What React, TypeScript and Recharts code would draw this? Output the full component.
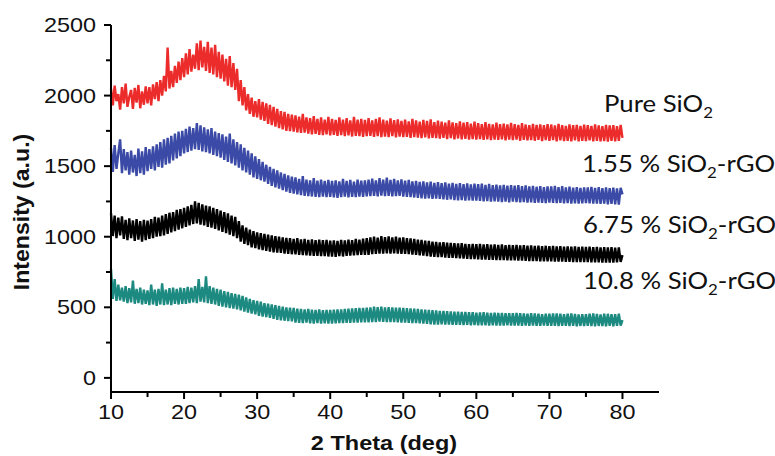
import React from 'react';
import { LineChart, Line, XAxis, YAxis } from 'recharts';

// scan: 10 -> 80 deg, 0.25 deg step (20 points per row = 5 deg)
const SCAN_START = 10;
const SCAN_STEP = 0.25;

const pureSiO2 = [
  2050, 1930, 2070, 1960, 2010, 1900, 2060, 1945, 2085, 1920, 1990, 2040, 1905, 2055, 1950, 2075, 1910, 2030, 1935, 2065,
  1945, 2060, 1930, 2080, 1975, 2095, 1960, 2110, 2000, 2140, 2030, 2340, 2050, 2175, 2060, 2210, 2090, 2240, 2110, 2265,
  2130, 2300, 2150, 2330, 2170, 2290, 2190, 2370, 2180, 2390, 2200, 2345, 2175, 2380, 2160, 2340, 2150, 2360, 2130, 2310,
  2120, 2290, 2100, 2260, 2070, 2280, 2060, 2230, 2040, 2190, 1960, 2110, 1930, 2060, 1895, 2010, 1870, 1985, 1850, 1960,
  1845, 1975, 1830, 1955, 1820, 1945, 1800, 1935, 1790, 1920, 1780, 1905, 1770, 1890, 1760, 1885, 1750, 1870, 1748, 1865,
  1745, 1860, 1740, 1850, 1735, 1870, 1738, 1845, 1730, 1840, 1725, 1855, 1728, 1835, 1722, 1845, 1720, 1830, 1725, 1850,
  1718, 1835, 1722, 1828, 1715, 1845, 1720, 1830, 1712, 1840, 1718, 1825, 1710, 1850, 1715, 1830, 1712, 1835, 1708, 1828,
  1712, 1840, 1715, 1825, 1708, 1835, 1712, 1845, 1705, 1830, 1710, 1822, 1706, 1838, 1712, 1826, 1704, 1832, 1710, 1820,
  1705, 1830, 1708, 1818, 1700, 1835, 1706, 1825, 1702, 1815, 1698, 1828, 1704, 1820, 1696, 1832, 1700, 1812, 1698, 1822,
  1695, 1815, 1700, 1808, 1692, 1825, 1698, 1810, 1690, 1805, 1696, 1818, 1690, 1808, 1694, 1812, 1688, 1802, 1692, 1815,
  1688, 1805, 1692, 1798, 1686, 1812, 1690, 1800, 1684, 1795, 1688, 1808, 1686, 1798, 1690, 1802, 1682, 1796, 1688, 1806,
  1684, 1798, 1688, 1792, 1680, 1805, 1686, 1795, 1682, 1790, 1684, 1800, 1680, 1792, 1686, 1796, 1678, 1790, 1684, 1798,
  1680, 1795, 1684, 1788, 1676, 1800, 1682, 1790, 1678, 1786, 1680, 1796, 1676, 1790, 1682, 1792, 1676, 1786, 1680, 1794,
  1678, 1790, 1682, 1786, 1675, 1796, 1680, 1788, 1676, 1784, 1678, 1792, 1674, 1788, 1680, 1790, 1676, 1784, 1680, 1792,
  1700,
];

const rgo155 = [
  1630, 1460, 1650, 1480, 1590, 1690, 1450, 1620, 1470, 1600, 1440, 1610, 1455, 1580, 1430, 1625, 1450, 1605, 1440, 1635,
  1465, 1620, 1480, 1640, 1470, 1655, 1495, 1670, 1490, 1690, 1510, 1700, 1520, 1715, 1540, 1730, 1555, 1745, 1570, 1750,
  1590, 1765, 1600, 1780, 1610, 1770, 1620, 1805, 1615, 1790, 1605, 1775, 1600, 1760, 1590, 1770, 1580, 1745, 1570, 1735,
  1560, 1725, 1545, 1710, 1530, 1730, 1520, 1690, 1505, 1670, 1490, 1655, 1470, 1630, 1455, 1610, 1440, 1590, 1420, 1570,
  1410, 1550, 1400, 1530, 1390, 1510, 1375, 1495, 1360, 1480, 1350, 1470, 1340, 1455, 1330, 1445, 1320, 1435, 1310, 1425,
  1305, 1420, 1300, 1410, 1295, 1430, 1290, 1405, 1288, 1400, 1285, 1415, 1282, 1398, 1280, 1405, 1284, 1395, 1280, 1402,
  1282, 1395, 1278, 1400, 1275, 1392, 1280, 1410, 1284, 1396, 1278, 1402, 1282, 1390, 1280, 1405, 1285, 1398, 1282, 1400,
  1286, 1405, 1288, 1412, 1290, 1400, 1286, 1415, 1292, 1405, 1288, 1418, 1290, 1402, 1286, 1410, 1288, 1400, 1290, 1406,
  1285, 1398, 1282, 1402, 1280, 1392, 1278, 1396, 1275, 1388, 1272, 1392, 1270, 1385, 1272, 1390, 1268, 1382, 1270, 1386,
  1268, 1380, 1265, 1385, 1262, 1376, 1264, 1382, 1260, 1374, 1258, 1380, 1260, 1372, 1256, 1378, 1258, 1370, 1255, 1376,
  1256, 1372, 1254, 1376, 1250, 1368, 1252, 1374, 1248, 1366, 1250, 1370, 1248, 1364, 1246, 1368, 1248, 1362, 1244, 1366,
  1248, 1362, 1245, 1366, 1243, 1358, 1246, 1364, 1242, 1356, 1244, 1360, 1240, 1354, 1242, 1358, 1240, 1352, 1238, 1356,
  1242, 1356, 1240, 1360, 1238, 1352, 1240, 1358, 1236, 1350, 1238, 1355, 1235, 1348, 1237, 1352, 1234, 1346, 1236, 1350,
  1238, 1350, 1236, 1354, 1234, 1346, 1235, 1352, 1232, 1345, 1234, 1350, 1230, 1344, 1232, 1348, 1230, 1342, 1228, 1346,
  1300,
];

const rgo675 = [
  1165, 1005, 1150, 990, 1135, 1010, 1145, 985, 1120, 975, 1130, 990, 1115, 970, 1125, 980, 1110, 965, 1120, 975,
  1115, 985, 1125, 990, 1140, 1000, 1135, 1005, 1150, 1010, 1160, 1020, 1170, 1030, 1175, 1040, 1190, 1050, 1195, 1060,
  1205, 1070, 1215, 1080, 1225, 1090, 1250, 1095, 1240, 1085, 1230, 1080, 1220, 1070, 1215, 1065, 1205, 1055, 1195, 1045,
  1185, 1035, 1175, 1025, 1165, 1015, 1150, 1005, 1140, 990, 1110, 965, 1080, 950, 1065, 940, 1050, 925, 1040, 920,
  1030, 910, 1025, 905, 1020, 900, 1015, 895, 1010, 890, 1005, 888, 1000, 885, 995, 880, 992, 878, 990, 876,
  985, 875, 990, 872, 982, 870, 985, 868, 978, 866, 982, 865, 976, 864, 980, 862, 975, 862, 978, 860,
  972, 860, 975, 858, 970, 862, 978, 860, 974, 864, 980, 866, 976, 868, 984, 870, 980, 872, 986, 872,
  990, 872, 996, 876, 1000, 878, 994, 880, 1004, 880, 998, 882, 1002, 880, 996, 882, 1000, 880, 994, 878,
  995, 878, 990, 876, 988, 874, 985, 872, 980, 868, 978, 866, 972, 862, 970, 860, 966, 858, 964, 856,
  960, 855, 962, 852, 958, 850, 956, 850, 955, 848, 952, 846, 954, 845, 950, 844, 948, 842, 950, 842,
  948, 840, 950, 838, 946, 838, 948, 836, 944, 836, 946, 835, 942, 834, 945, 834, 940, 833, 942, 832,
  940, 832, 942, 830, 938, 830, 940, 829, 936, 828, 938, 828, 935, 827, 937, 826, 934, 826, 936, 825,
  934, 825, 936, 824, 932, 824, 934, 823, 930, 822, 932, 822, 930, 821, 931, 820, 928, 820, 930, 820,
  928, 820, 930, 819, 926, 818, 928, 818, 925, 817, 927, 817, 924, 816, 926, 816, 923, 818, 925, 822,
  870,
];

const rgo108 = [
  770, 560, 700, 545, 660, 550, 640, 540, 650, 530, 635, 535, 690, 525, 630, 530, 640, 520, 625, 525,
  620, 515, 660, 520, 625, 510, 630, 520, 670, 515, 625, 520, 635, 515, 640, 525, 630, 520, 640, 525,
  635, 525, 645, 530, 640, 535, 650, 530, 700, 540, 645, 535, 720, 530, 650, 525, 640, 520, 630, 510,
  625, 505, 615, 500, 610, 495, 600, 490, 595, 485, 590, 478, 580, 470, 570, 462, 560, 455, 550, 450,
  545, 440, 540, 435, 530, 430, 525, 425, 520, 418, 515, 412, 510, 408, 505, 405, 500, 402, 498, 400,
  495, 392, 490, 390, 488, 388, 485, 392, 488, 386, 484, 385, 482, 388, 485, 384, 480, 386, 482, 385,
  482, 384, 484, 386, 485, 388, 486, 388, 488, 390, 490, 390, 492, 392, 494, 392, 495, 393, 496, 394,
  498, 394, 500, 396, 504, 396, 502, 398, 504, 397, 500, 396, 502, 395, 500, 395, 498, 394, 497, 392,
  496, 392, 494, 390, 492, 389, 490, 388, 488, 386, 486, 385, 484, 383, 482, 380, 480, 378, 478, 378,
  475, 380, 474, 378, 472, 378, 471, 376, 470, 375, 469, 376, 468, 374, 467, 375, 465, 373, 465, 374,
  462, 373, 464, 372, 465, 372, 462, 371, 460, 372, 462, 370, 461, 371, 460, 370, 458, 372, 459, 370,
  458, 370, 460, 371, 459, 369, 457, 370, 455, 369, 458, 370, 456, 368, 455, 369, 452, 370, 454, 368,
  455, 369, 457, 368, 456, 367, 454, 369, 452, 368, 455, 367, 456, 368, 453, 366, 450, 368, 452, 367,
  452, 368, 455, 367, 456, 366, 453, 368, 450, 367, 455, 366, 454, 368, 452, 366, 452, 368, 454, 370,
  410,
];

const xTicks = [10, 15, 20, 25, 30, 35, 40, 45, 50, 55, 60, 65, 70, 75, 80];
const yTicks = [0, 250, 500, 750, 1000, 1250, 1500, 1750, 2000, 2250, 2500];

const data = pureSiO2.map((v, i) => ({
  theta: SCAN_START + i * SCAN_STEP,
  pure: v,
  a: rgo155[i],
  b: rgo675[i],
  c: rgo108[i],
}));

const AXIS_LEFT = 111;
const AXIS_BOTTOM = 392;
const tickFont = '"Liberation Sans", Arial, sans-serif';

const YTick = (props: any) => {
  const { y, payload } = props;
  const major = payload.value % 500 === 0;
  return (
    <g>
      <line x1={AXIS_LEFT - (major ? 7 : 5)} x2={AXIS_LEFT} y1={y} y2={y} stroke="#000" strokeWidth={2} />
      {major && (
        <text
          transform={`translate(${AXIS_LEFT - 15},${y + 7}) scale(1.17,1)`}
          textAnchor="end"
          fontSize={20}
          fontFamily={tickFont}
          fill="#111"
        >
          {payload.value}
        </text>
      )}
    </g>
  );
};

const XTick = (props: any) => {
  const { x, payload } = props;
  const major = payload.value % 10 === 0;
  return (
    <g>
      <line x1={x} x2={x} y1={AXIS_BOTTOM} y2={AXIS_BOTTOM + (major ? 7 : 5)} stroke="#000" strokeWidth={2} />
      {major && (
        <text
          transform={`translate(${x},${AXIS_BOTTOM + 27}) scale(1.17,1)`}
          textAnchor="middle"
          fontSize={20}
          fontFamily={tickFont}
          fill="#111"
        >
          {payload.value}
        </text>
      )}
    </g>
  );
};

const labelFont = 'Lato, "Open Sans", sans-serif';

const SeriesLabel = ({ x, y, pre, post }: { x: number; y: number; pre: string; post: string }) => (
  <text transform={`translate(${x},${y}) scale(1.12,1)`} fontSize={23} fontFamily={labelFont} fill="#111">
    {pre}
    <tspan dy={6} fontSize={15}>2</tspan>
    <tspan dy={-6}>{post}</tspan>
  </text>
);

export default function App() {
  return (
    <div style={{ position: 'relative', width: 775, height: 456, background: '#fff' }}>
      <style>{`body{margin:0}`}</style>
      <LineChart width={775} height={456} data={data} margin={{ top: 25, right: 116, bottom: 0, left: 0 }}>
        <XAxis
          dataKey="theta"
          type="number"
          domain={[10, 85]}
          ticks={xTicks}
          height={64}
          axisLine={{ stroke: '#000', strokeWidth: 2 }}
          tickLine={false}
          tick={<XTick />}
          interval={0}
        />
        <YAxis
          type="number"
          domain={[-100, 2500]}
          ticks={yTicks}
          width={111}
          axisLine={{ stroke: '#000', strokeWidth: 2 }}
          tickLine={false}
          tick={<YTick />}
          interval={0}
        />
        <Line dataKey="pure" stroke="#ec2b2b" strokeWidth={2.4} dot={false} isAnimationActive={false} />
        <Line dataKey="a" stroke="#3a4aa6" strokeWidth={2.4} dot={false} isAnimationActive={false} />
        <Line dataKey="b" stroke="#000000" strokeWidth={2.4} dot={false} isAnimationActive={false} />
        <Line dataKey="c" stroke="#1c8a80" strokeWidth={2.4} dot={false} isAnimationActive={false} />
      </LineChart>
      <svg width={775} height={456} style={{ position: 'absolute', left: 0, top: 0, pointerEvents: 'none' }}>
        <text
          transform="translate(29,212) rotate(-90) scale(1.05,1)"
          textAnchor="middle"
          fontSize={22}
          fontWeight="bold"
          fontFamily={tickFont}
          fill="#111"
        >
          Intensity (a.u.)
        </text>
        <text
          transform="translate(384,450) scale(1.12,1)"
          textAnchor="middle"
          fontSize={21}
          fontWeight="bold"
          fontFamily={tickFont}
          fill="#111"
        >
          2 Theta (deg)
        </text>
        <SeriesLabel x={604} y={112} pre="Pure SiO" post="" />
        <SeriesLabel x={582} y={172} pre="1.55 % SiO" post="-rGO" />
        <SeriesLabel x={583} y={233} pre="6.75 % SiO" post="-rGO" />
        <SeriesLabel x={583} y={289} pre="10.8 % SiO" post="-rGO" />
      </svg>
    </div>
  );
}
